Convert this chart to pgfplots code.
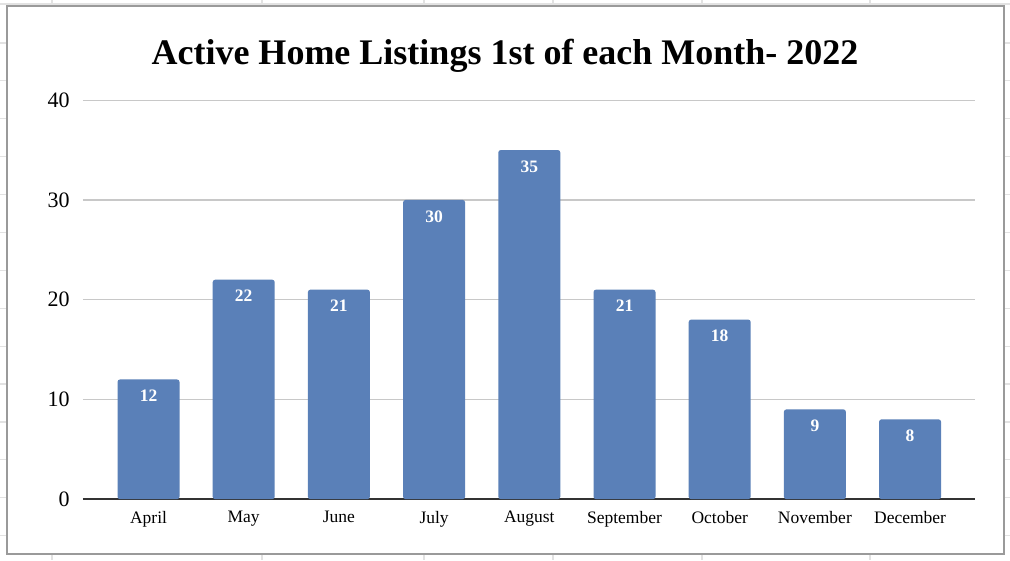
\documentclass[border=0pt]{standalone}
\usepackage{pgfplots}
\pgfplotsset{compat=1.18}
\usepackage{fontspec}
\setmainfont{Liberation Serif}
\definecolor{barblue}{HTML}{5A80B8}
\definecolor{gridgray}{HTML}{C8C8C8}
\definecolor{framegray}{HTML}{9A9A9A}
\definecolor{sheetgray}{HTML}{E2E2E2}
\definecolor{baseline}{HTML}{333333}
\begin{document}
\begin{tikzpicture}[x=1pt,y=1pt]
\useasboundingbox (0,0) rectangle (1010,560);
\fill[white] (0,0) rectangle (1010,560);
% spreadsheet grid outside the chart frame
\foreach \xx in {52,262,424,553,702,870} {\draw[sheetgray,line width=1.2pt] (\xx,0) -- (\xx,560);}
\foreach \k in {0,...,13} {\draw[sheetgray,line width=1.2pt] (0,{560-43-37.9*\k}) -- (1010,{560-43-37.9*\k});}
\draw[sheetgray,line width=1.2pt] (0,556) -- (1010,556);
% chart frame
\filldraw[fill=white,draw=framegray,line width=2pt] (7,6.5) rectangle (1003.5,553.5);
\node[font=\fontsize{36}{40}\selectfont\bfseries, anchor=base] at (505,495) {Active Home Listings 1st of each Month- 2022};
\begin{axis}[
  at={(87,61)}, anchor=south west,
  scale only axis, width=892pt, height=399pt,
  xmin=-0.69, xmax=8.68, ymin=0, ymax=40,
  ytick={0,10,20,30,40},
  xtick={0,...,8},
  xticklabels={April,May,June,July,August,September,October,November,December},
  axis x line*=bottom, axis y line*=left,
  y axis line style={draw=none},
  x axis line style={draw=baseline,line width=2pt,-},
  major tick length=0pt,
  ymajorgrids, grid style={gridgray,line width=1.3pt},
  /pgf/number format/assume math mode=true,
  yticklabel style={font=\fontsize{22}{26}\selectfont, anchor=east, inner sep=0pt, xshift=-13pt},
  xticklabel style={font=\fontsize{17.5}{20}\selectfont, anchor=north, inner sep=0pt, yshift=-12pt},
  ybar, bar width=62pt,
  nodes near coords,
  every node near coord/.append style={font=\fontsize{17.5}{20}\selectfont\bfseries, text=white, anchor=north, inner sep=0pt, yshift=-10.5pt},
  clip=false,
]
\addplot[fill=barblue, draw=none, rounded corners=2.5pt] coordinates {(0,12) (1,22) (2,21) (3,30) (4,35) (5,21) (6,18) (7,9) (8,8)};
\end{axis}
\end{tikzpicture}
\end{document}
